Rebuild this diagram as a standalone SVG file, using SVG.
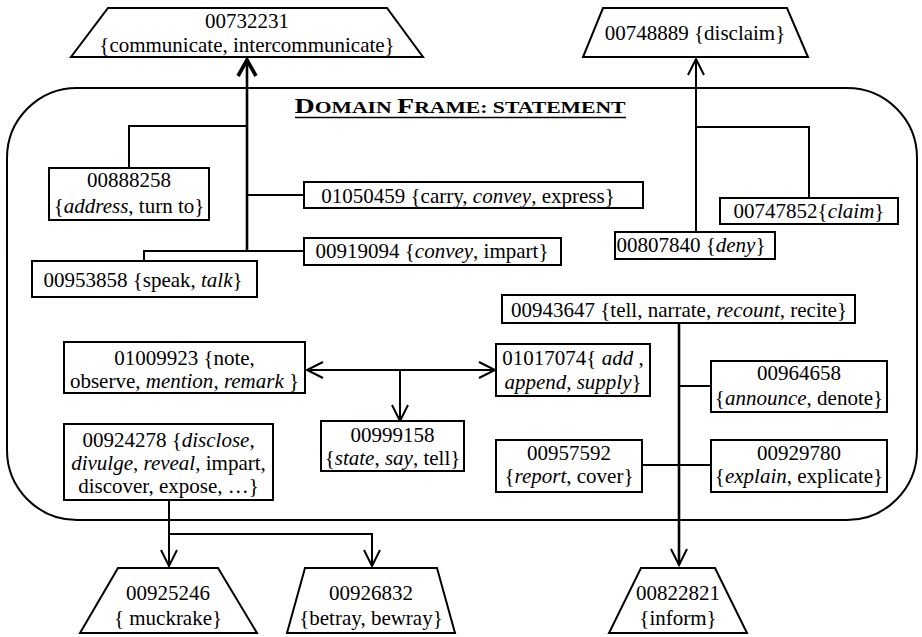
<svg xmlns="http://www.w3.org/2000/svg" width="922" height="637" viewBox="0 0 922 637">
<style>
.n rect, .n polygon { fill:#fff; stroke:#000; stroke-width:2; }
text { font-family:'Liberation Serif','Times New Roman',serif; font-size:21px; font-weight:400; fill:#000; text-anchor:middle; }
.i { font-style:italic; }
.c path { fill:none; stroke:#000; stroke-width:2; }
.c path.thick { stroke-width:2.6; }
.frame { fill:none; stroke:#000; stroke-width:2; }
text.title { font-weight:700; }
</style>
<defs>
<marker id="arr" markerUnits="userSpaceOnUse" markerWidth="22" markerHeight="22" viewBox="0 0 22 22" refX="19" refY="11" orient="auto">
<path d="M3,3 L19,11 L3,19" fill="none" stroke="#000" stroke-width="2"/>
</marker>
<marker id="arrB" markerUnits="userSpaceOnUse" markerWidth="24" markerHeight="24" viewBox="0 0 24 24" refX="21" refY="12" orient="auto">
<path d="M4,3 L20,12 L4,21" fill="none" stroke="#000" stroke-width="3.6"/>
</marker>
</defs>
<rect class="frame" x="7" y="88" width="910" height="432" rx="70" ry="70"/>
<g id="title">
<text class="title" x="460" y="113" textLength="331" lengthAdjust="spacingAndGlyphs"><tspan font-size="22">D</tspan><tspan font-size="17">OMAIN </tspan><tspan font-size="22">F</tspan><tspan font-size="17">RAME: STATEMENT</tspan></text>
<line x1="295" y1="117.5" x2="626" y2="117.5" stroke="#000" stroke-width="1.6"/>
</g>
<g class="c" id="connectors">
<path class="thick" d="M247,251 V59" marker-end="url(#arrB)"/>
<path d="M129,168 V126 H247"/>
<path d="M247,195 H304"/>
<path d="M144,261 V251 H304"/>
<path d="M696,232 V59" marker-end="url(#arr)"/>
<path d="M809,198 V127 H696"/>
<path class="thick" d="M679,323 V565" marker-end="url(#arr)"/>
<path d="M679,386 H711"/>
<path d="M642,465 H711"/>
<path d="M400,370 H307" marker-end="url(#arr)"/>
<path d="M400,370 H495" marker-end="url(#arr)"/>
<path d="M400,370 V421" marker-end="url(#arr)"/>
<path d="M169,500 V566" marker-end="url(#arr)"/>
<path d="M169,534 H372 V566" marker-end="url(#arr)"/>
</g>
<g class="n" id="n00732231">
<polygon points="108,8 387,8 423,57 71,57"/>
<text x="247" y="28">00732231</text>
<text x="247" y="52">{communicate, intercommunicate}</text>
</g>
<g class="n" id="n00748889">
<polygon points="603,8 787,8 808,57 583,57"/>
<text x="695" y="40">00748889 {disclaim}</text>
</g>
<g class="n" id="n00888258">
<rect x="49" y="168" width="160" height="52"/>
<text x="129" y="187">00888258</text>
<text x="129" y="213">{<tspan class="i">address</tspan>, turn to}</text>
</g>
<g class="n" id="n01050459">
<rect x="304" y="182" width="339" height="26"/>
<text x="468" y="203">01050459 {carry, <tspan class="i">convey</tspan>, express}</text>
</g>
<g class="n" id="n00919094">
<rect x="304" y="238" width="257" height="27"/>
<text x="432" y="258">00919094 {<tspan class="i">convey</tspan>, impart}</text>
</g>
<g class="n" id="n00953858">
<rect x="32" y="261" width="225" height="36"/>
<text x="143" y="287">00953858 {speak, <tspan class="i">talk</tspan>}</text>
</g>
<g class="n" id="n00747852">
<rect x="720" y="198" width="178" height="26"/>
<text x="809" y="218">00747852{<tspan class="i">claim</tspan>}</text>
</g>
<g class="n" id="n00807840">
<rect x="615" y="232" width="160" height="27"/>
<text x="691" y="252">00807840 {<tspan class="i">deny</tspan>}</text>
</g>
<g class="n" id="n00943647">
<rect x="502" y="295" width="353" height="28"/>
<text x="679" y="317">00943647 {tell, narrate, <tspan class="i">recount,</tspan> recite}</text>
</g>
<g class="n" id="n01009923">
<rect x="64" y="342" width="241" height="51"/>
<text x="184.5" y="365">01009923 {note,</text>
<text x="184.5" y="388">observe, <tspan class="i">mention</tspan>, <tspan class="i">remark</tspan> }</text>
</g>
<g class="n" id="n01017074">
<rect x="496" y="344" width="154" height="52"/>
<text x="573" y="365" font-size="20">01017074{ <tspan class="i">add</tspan> ,</text>
<text x="573" y="389" font-size="20"><tspan class="i">append, supply</tspan>}</text>
</g>
<g class="n" id="n00964658">
<rect x="711" y="361" width="176" height="51"/>
<text x="799" y="380">00964658</text>
<text x="799" y="405">{<tspan class="i">announce</tspan>, denote}</text>
</g>
<g class="n" id="n00999158">
<rect x="321" y="421" width="143" height="50"/>
<text x="392.5" y="442">00999158</text>
<text x="392.5" y="465">{<tspan class="i">state</tspan>, <tspan class="i">say</tspan>, tell}</text>
</g>
<g class="n" id="n00924278">
<rect x="64" y="424" width="209" height="76"/>
<text x="168.5" y="447">00924278 {<tspan class="i">disclose</tspan>,</text>
<text x="168.5" y="470"><tspan class="i">divulge</tspan>, <tspan class="i">reveal</tspan>, impart,</text>
<text x="168.5" y="493">discover, expose, …}</text>
</g>
<g class="n" id="n00957592">
<rect x="496" y="440" width="146" height="52"/>
<text x="569" y="460">00957592</text>
<text x="569" y="483">{<tspan class="i">report</tspan>, cover}</text>
</g>
<g class="n" id="n00929780">
<rect x="711" y="440" width="176" height="52"/>
<text x="799" y="460">00929780</text>
<text x="799" y="483">{<tspan class="i">explain</tspan>, explicate}</text>
</g>
<g class="n" id="n00925246">
<polygon points="118,568 218,568 257,633 80,633"/>
<text x="168" y="600">00925246</text>
<text x="168" y="625">{ muckrake}</text>
</g>
<g class="n" id="n00926832">
<polygon points="305,568 437,568 455,633 287,633"/>
<text x="371" y="600">00926832</text>
<text x="371" y="625">{betray, bewray}</text>
</g>
<g class="n" id="n00822821">
<polygon points="641,568 715,568 747,633 609,633"/>
<text x="678" y="600">00822821</text>
<text x="678" y="625">{inform}</text>
</g>
</svg>
